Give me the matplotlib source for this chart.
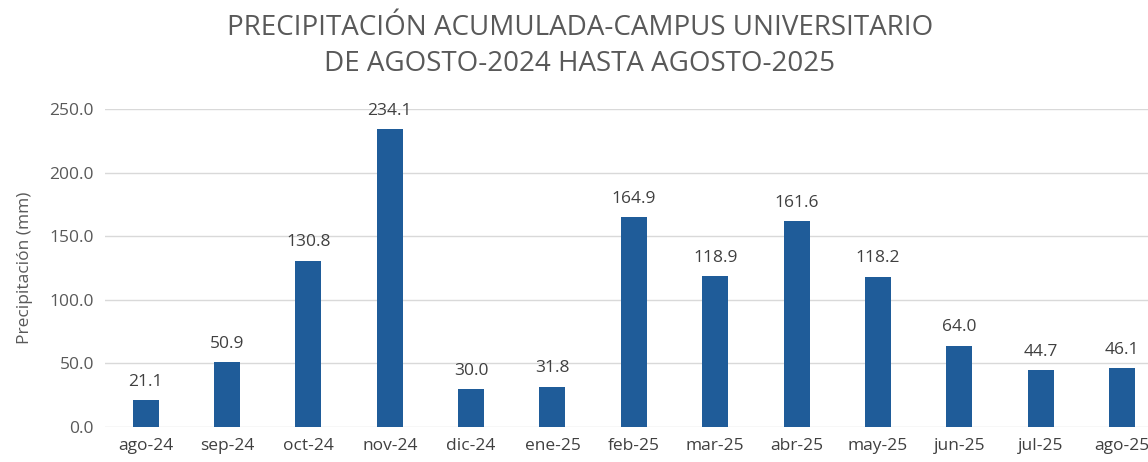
import matplotlib.pyplot as plt
import numpy as np

meses = ['ago-24', 'sep-24', 'oct-24', 'nov-24', 'dic-24', 'ene-25', 'feb-25',
         'mar-25', 'abr-25', 'may-25', 'jun-25', 'jul-25', 'ago-25']
precip = [21.1, 50.9, 130.8, 234.1, 30.0, 31.8, 164.9,
          118.9, 161.6, 118.2, 64.0, 44.7, 46.1]
yticks = [0, 50, 100, 150, 200, 250]

plt.rcParams['font.family'] = ['Open Sans', 'DejaVu Sans']

fig = plt.figure(figsize=(11.48, 4.62), dpi=100)
ax = fig.add_axes([105 / 1148, 35 / 462, 1 - 105 / 1148, (427 - 109) / 462])

x = np.arange(len(meses))
bars = ax.bar(x, precip, width=0.32, color='#1f5c99', zorder=3)
for b, v in zip(bars, precip):
    ax.text(b.get_x() + b.get_width() / 2, v + 8, f'{v:.1f}',
            ha='center', va='bottom', fontsize=12.5, color='#404040')

ax.set_xlim(-0.5, 12.32)
ax.set_ylim(0, 250)
ax.set_xticks(x)
ax.set_xticklabels(meses, fontsize=12.5, color='#404040')
ax.set_yticks(yticks)
ax.set_yticklabels([f'{t:.1f}' for t in yticks], fontsize=12.5, color='#595959')
ax.tick_params(length=0, pad=8)
ax.grid(axis='y', color='#d9d9d9', linewidth=1, zorder=0)
for s in ax.spines.values():
    s.set_visible(False)
ax.set_ylabel('Precipitación (mm)', fontsize=12.5, color='#595959', labelpad=12)

fig.text(0.505, 0.97, 'PRECIPITACIÓN ACUMULADA-CAMPUS UNIVERSITARIO\nDE AGOSTO-2024 HASTA AGOSTO-2025',
         ha='center', va='top', fontsize=20, color='#595959', linespacing=1.4)

fig.savefig('out.png', dpi=100)
